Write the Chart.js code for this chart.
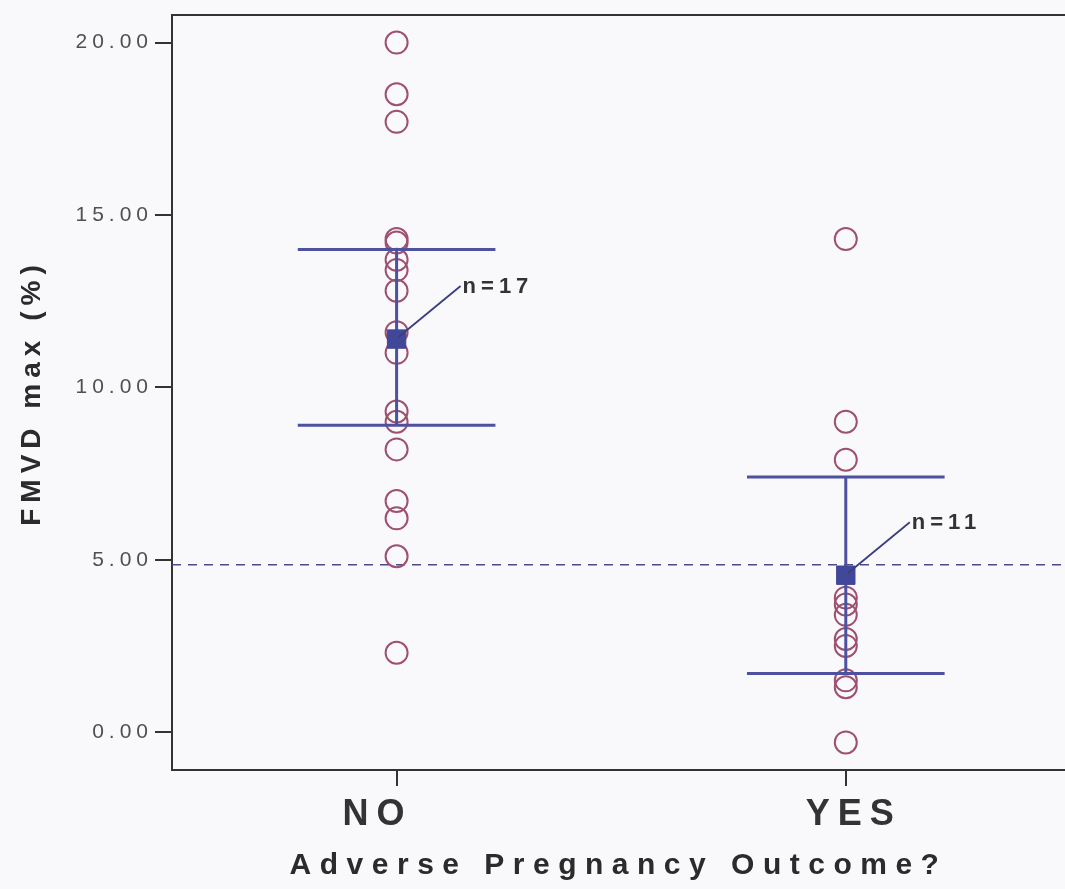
<!DOCTYPE html>
<html>
<head>
<meta charset="utf-8">
<title>FMVD max by adverse pregnancy outcome</title>
<script src="https://cdn.jsdelivr.net/npm/chart.js@4.4.1/dist/chart.umd.min.js"></script>
<style>
  html, body { margin: 0; padding: 0; background: #f9f9fb; overflow: hidden; }
  #wrap { width: 1065px; height: 889px; position: relative; }
  canvas { display: block; }
</style>
</head>
<body>
<div id="wrap"><canvas id="chart" width="1065" height="889"></canvas></div>
<script>
// Groups on the x axis
const categories = ['NO', 'YES'];
// Individual FMVD max (%) values per group
const groupNo = [20.0, 18.5, 17.7, 14.3, 14.2, 13.7, 13.4, 12.8, 11.6, 11.0, 9.3, 9.0, 8.2, 6.7, 6.2, 5.1, 2.3];
const groupYes = [14.3, 9.0, 7.9, 3.9, 3.7, 3.4, 2.7, 2.5, 1.5, 1.3, -0.3];
// Group means and 95% confidence limits
const groupMeans = [11.4, 4.55];
const ciLower = [8.9, 1.7];
const ciUpper = [14.0, 7.4];
const countLabels = ['n=17', 'n=11'];
// Value axis ticks and the dashed cut-off line
const yTicks = [0, 5, 10, 15, 20];
const referenceLevel = 4.85;

const FONT = "'Liberation Sans', Arial, Helvetica, sans-serif";
const CAP_HALF = 0.22;          // half-width of error-bar caps, in x units
const BAR_COLOR = '#4d51a0';
const POINT_COLOR = '#9e5070';
const X_LABEL_NUDGE = [-19, 8]; // horizontal nudge of each category label, px

// Per-scale letter spacing for tick labels and titles
const scaleSpacing = {
  x: { labels: '8px', title: '8.5px' },
  y: { labels: '5px', title: '6px' }
};

const spacingPlugin = {
  id: 'letterSpacing',
  beforeDraw(chart) {
    for (const id in chart.scales) {
      const s = chart.scales[id];
      const sp = scaleSpacing[id];
      if (!sp || s.__spaced) continue;
      s.__spaced = true;
      const wrap = (fn, v) => function (...args) {
        const ctx = this.ctx;
        const prev = ctx.letterSpacing;
        ctx.letterSpacing = v;
        fn.apply(this, args);
        ctx.letterSpacing = prev;
      };
      if (id === 'x') {
        const base = s.drawLabels;
        s.drawLabels = function (chartArea) {
          this.getLabelItems(chartArea).forEach((item, i) => {
            if (item.__nudged) return;
            item.__nudged = true;
            item.options.translation[0] += X_LABEL_NUDGE[i] || 0;
          });
          base.call(this, chartArea);
        };
      }
      s.drawLabels = wrap(s.drawLabels, sp.labels);
      s.drawTitle = wrap(s.drawTitle, sp.title);
    }
  }
};

// Frame top edge + dashed reference line
const framePlugin = {
  id: 'frame',
  beforeDatasetsDraw(chart) {
    const { ctx, chartArea, scales: { y } } = chart;
    ctx.save();
    ctx.strokeStyle = '#333';
    ctx.lineWidth = 2;
    ctx.beginPath();
    ctx.moveTo(chartArea.left, chartArea.top);
    ctx.lineTo(chartArea.right, chartArea.top);
    ctx.stroke();

    const yr = y.getPixelForValue(referenceLevel);
    ctx.strokeStyle = '#4b4b8e';
    ctx.lineWidth = 1.5;
    ctx.setLineDash([9, 7]);
    ctx.beginPath();
    ctx.moveTo(chartArea.left, yr);
    ctx.lineTo(chartArea.right, yr);
    ctx.stroke();
    ctx.restore();
  }
};

// Confidence-interval bars, drawn over the circles but under the mean markers
const errorBarPlugin = {
  id: 'errorBars',
  afterDatasetDraw(chart, args) {
    if (args.index !== 1) return;
    const { ctx, scales: { x, y } } = chart;
    ctx.save();
    ctx.strokeStyle = BAR_COLOR;
    ctx.lineWidth = 3;
    categories.forEach((c, i) => {
      const xc = x.getPixelForValue(i);
      const xl = x.getPixelForValue(i - CAP_HALF);
      const xr = x.getPixelForValue(i + CAP_HALF);
      const yl = y.getPixelForValue(ciLower[i]);
      const yu = y.getPixelForValue(ciUpper[i]);
      ctx.beginPath();
      ctx.moveTo(xc, yu); ctx.lineTo(xc, yl);
      ctx.moveTo(xl, yu); ctx.lineTo(xr, yu);
      ctx.moveTo(xl, yl); ctx.lineTo(xr, yl);
      ctx.stroke();
    });
    ctx.restore();
  }
};

// Sample-size callouts next to each mean
const countPlugin = {
  id: 'counts',
  afterDatasetsDraw(chart) {
    const { ctx, scales: { x, y } } = chart;
    ctx.save();
    categories.forEach((c, i) => {
      const px = x.getPixelForValue(i);
      const py = y.getPixelForValue(groupMeans[i]);
      const ex = px + 64, ey = py - 53;
      ctx.strokeStyle = '#3a3e7e';
      ctx.lineWidth = 1.8;
      ctx.beginPath();
      ctx.moveTo(px + 2, py - 2);
      ctx.lineTo(ex, ey);
      ctx.stroke();
      ctx.font = 'bold 22px ' + FONT;
      ctx.letterSpacing = '5px';
      ctx.fillStyle = '#333';
      ctx.textAlign = 'left';
      ctx.textBaseline = 'middle';
      ctx.fillText(countLabels[i], ex + 2, ey + 1);
    });
    ctx.restore();
  }
};

const circleStyle = {
  pointStyle: 'circle',
  pointRadius: 11,
  pointBorderWidth: 2,
  pointBorderColor: POINT_COLOR,
  pointBackgroundColor: 'rgba(0,0,0,0)',
  showLine: false
};

new Chart(document.getElementById('chart'), {
  type: 'scatter',
  data: {
    datasets: [
      {
        label: 'Mean',
        data: groupMeans.map((v, i) => ({ x: i, y: v })),
        pointStyle: 'rect',
        pointRadius: 13,
        pointBorderWidth: 1,
        pointBackgroundColor: '#414899',
        pointBorderColor: '#414899',
        showLine: false
      },
      Object.assign({ label: categories[0], data: groupNo.map(v => ({ x: 0, y: v })) }, circleStyle),
      Object.assign({ label: categories[1], data: groupYes.map(v => ({ x: 1, y: v })) }, circleStyle)
    ]
  },
  options: {
    responsive: false,
    animation: false,
    devicePixelRatio: 1,
    layout: { autoPadding: false, padding: { top: 15, right: 0, bottom: 0, left: 0 } },
    plugins: { legend: { display: false }, tooltip: { enabled: false } },
    scales: {
      x: {
        type: 'linear',
        min: -0.5,
        max: 1.488,
        afterBuildTicks: s => { s.ticks = categories.map((c, i) => ({ value: i })); },
        afterFit: s => { s.height = 119; s.paddingLeft = 0; s.paddingRight = 0; },
        ticks: {
          callback: v => categories[v],
          font: { family: FONT, size: 36, weight: 'bold' },
          color: '#333',
          padding: 7,
          autoSkip: false,
          maxRotation: 0
        },
        grid: { drawOnChartArea: false, drawTicks: true, tickLength: 16, color: '#333', lineWidth: 2 },
        border: { display: true, color: '#333', width: 2 },
        title: {
          display: true,
          text: 'Adverse Pregnancy Outcome?',
          font: { family: FONT, size: 30, weight: 'bold' },
          color: '#2b2b2b',
          padding: { top: 0, bottom: 5 }
        }
      },
      y: {
        min: -1.1,
        max: 20.8,
        afterBuildTicks: s => { s.ticks = yTicks.map(v => ({ value: v })); },
        afterFit: s => { s.width = 172; s.paddingTop = 0; s.paddingBottom = 0; },
        ticks: {
          callback: v => Number(v).toFixed(2),
          font: { family: FONT, size: 21 },
          color: '#505050',
          padding: 2
        },
        grid: { drawOnChartArea: false, drawTicks: true, tickLength: 17, color: '#333', lineWidth: 2 },
        border: { display: true, color: '#333', width: 2 },
        title: {
          display: true,
          text: 'FMVD max (%)',
          font: { family: FONT, size: 28, weight: 'bold' },
          color: '#2b2b2b',
          padding: { top: 15, bottom: 0 }
        }
      }
    }
  },
  plugins: [spacingPlugin, framePlugin, errorBarPlugin, countPlugin]
});
</script>
</body>
</html>
